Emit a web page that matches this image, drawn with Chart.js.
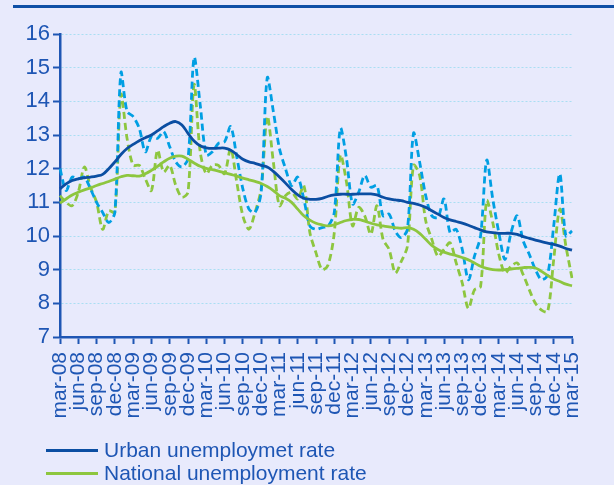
<!DOCTYPE html>
<html>
<head>
<meta charset="utf-8">
<script src="https://cdn.jsdelivr.net/npm/chart.js@4.4.0/dist/chart.umd.min.js"></script>
<style>
  html, body { margin: 0; padding: 0; background: #e8eafc; }
  #wrap { position: relative; width: 614px; height: 485px; overflow: hidden; font-family: "Liberation Sans", Arial, sans-serif; }
  #topline { position: absolute; left: 13px; right: 0; top: 5px; height: 3px; background: #0e4fa6; }
  #chart { position: absolute; left: 0; top: 0; }
  .leg { position: absolute; left: 46px; height: 24px; font-size: 21px; color: #1e56b4; white-space: nowrap; }
  .leg span.ln { position: absolute; left: 0; top: 11px; width: 52px; height: 3px; }
  .leg span.tx { position: absolute; left: 58px; top: 0; line-height: 24px; }
</style>
</head>
<body>
<div id="wrap">
  <div id="topline"></div>
  <canvas id="chart" width="614" height="485"></canvas>
  <div class="leg" style="top:438px"><span class="ln" style="background:#0b4ea2"></span><span class="tx">Urban unemploymet rate</span></div>
  <div class="leg" style="top:461px"><span class="ln" style="background:#8dc63f"></span><span class="tx">National unemployment rate</span></div>
</div>
<script>
// monthly labels mar-08 .. mar-15
const monthNames = ['jan', 'feb', 'mar', 'apr', 'may', 'jun', 'jul', 'aug', 'sep', 'oct', 'nov', 'dec'];
const months = [];
for (let i = 0; i < 85; i++) {
  const m = (2 + i) % 12;
  const y = 8 + Math.floor((2 + i) / 12);
  months.push(monthNames[m] + '-' + (y < 10 ? '0' + y : y));
}

const urbanTrend = [
  11.4, 11.55, 11.65, 11.7, 11.73, 11.75, 11.78, 11.83, 12.0, 12.2, 12.42, 12.6,
  12.72, 12.83, 12.92, 13.0, 13.12, 13.25, 13.35, 13.4, 13.3, 13.05, 12.82, 12.68,
  12.62, 12.6, 12.61, 12.61, 12.55, 12.42, 12.28, 12.2, 12.16, 12.1, 12.05, 11.92,
  11.75, 11.57, 11.38, 11.22, 11.12, 11.09, 11.09, 11.12, 11.18, 11.22, 11.24, 11.24,
  11.24, 11.25, 11.25, 11.25, 11.22, 11.15, 11.1, 11.07, 11.05, 11.0, 10.97, 10.92,
  10.85, 10.75, 10.65, 10.55, 10.48, 10.43, 10.38, 10.32, 10.25, 10.18, 10.12, 10.1,
  10.08, 10.08, 10.08, 10.05, 9.98, 9.93, 9.88, 9.83, 9.79, 9.75, 9.7, 9.63, 9.58
];
const nationalTrend = [
  10.98, 11.1, 11.22, 11.3, 11.37, 11.43, 11.5, 11.56, 11.62, 11.69, 11.76, 11.8,
  11.79, 11.78, 11.85, 11.95, 12.07, 12.2, 12.31, 12.37, 12.37, 12.28, 12.17, 12.07,
  12.01, 11.97, 11.93, 11.88, 11.83, 11.78, 11.72, 11.67, 11.62, 11.56, 11.47, 11.35,
  11.2, 11.12, 11.0, 10.8, 10.6, 10.47, 10.38, 10.33, 10.3, 10.33, 10.4, 10.46,
  10.49, 10.49, 10.44, 10.38, 10.33, 10.3, 10.27, 10.25, 10.23, 10.25, 10.2, 10.08,
  9.9, 9.72, 9.6, 9.52, 9.46, 9.42, 9.36, 9.29, 9.2, 9.1, 9.04, 9.0,
  8.99, 9.0, 9.02, 9.04, 9.06, 9.07, 9.05, 8.95, 8.83, 8.72, 8.65, 8.57, 8.52
];
const urbanMonthly = [
  12.0, 11.35, 11.75, 11.7, 11.75, 11.4, 11.0, 10.7, 10.4, 10.7, 14.85, 13.7,
  13.55, 13.2, 12.5, 12.95, 12.9, 13.1, 12.65, 12.2, 12.05, 12.3, 15.3, 13.9,
  12.4, 12.5, 12.75, 12.8, 13.25, 12.35, 11.4, 10.8, 10.7, 11.3, 14.7, 13.7,
  12.6, 12.0, 11.5, 11.75, 11.1, 10.3, 10.2, 10.25, 10.3, 10.7, 13.2, 12.3,
  10.95, 11.3, 11.8, 11.45, 11.5, 10.6, 10.65, 10.15, 9.95, 10.2, 13.05, 12.2,
  11.2, 10.6, 10.55, 11.1, 10.1, 10.2, 9.6, 8.7, 9.4, 10.0, 12.25, 11.1,
  10.1, 9.3, 10.1, 10.6, 9.85, 9.45, 9.0, 8.7, 8.85, 10.3, 11.85, 10.0, 10.15
];
const nationalMonthly = [
  11.2, 11.0, 10.9, 11.3, 12.05, 11.45, 11.0, 10.2, 10.75, 10.7, 14.2, 12.9,
  12.1, 12.1, 11.7, 11.35, 12.55, 11.9, 12.1, 11.5, 11.15, 11.3, 14.5, 12.5,
  11.85, 12.1, 12.1, 11.85, 12.6, 11.6, 10.6, 10.2, 10.7, 11.4, 13.55, 12.2,
  10.9, 11.2, 11.3, 11.1, 11.5, 10.1, 9.5, 9.0, 9.15, 10.1, 12.4, 11.6,
  10.3, 10.85, 10.6, 10.05, 10.9, 9.9, 9.6, 8.9, 9.25, 9.7, 12.1, 11.8,
  10.45, 9.9, 9.4, 9.6, 9.8, 9.2, 8.6, 7.85, 8.4, 8.5, 11.05, 10.4,
  9.45, 8.9, 9.1, 9.2, 8.85, 8.4, 8.0, 7.8, 7.75, 9.3, 10.8, 9.7, 8.75
];

const axisColor = '#1e56b4';
const darkBlue = '#0b4ea2';
const lightBlue = '#009fe3';
const green = '#8dc63f';

new Chart(document.getElementById('chart'), {
  type: 'line',
  data: {
    labels: months,
    datasets: [
      { label: 'Urban unemploymet rate', data: urbanTrend, borderColor: darkBlue, borderWidth: 2.8, tension: 0.4 },
      { label: 'National unemployment rate', data: nationalTrend, borderColor: green, borderWidth: 2.8, tension: 0.4 },
      { label: 'Urban monthly', data: urbanMonthly, borderColor: lightBlue, borderWidth: 2.8, borderDash: [7, 4], tension: 0.3 },
      { label: 'National monthly', data: nationalMonthly, borderColor: green, borderWidth: 2.8, borderDash: [7, 4], tension: 0.3 }
    ]
  },
  options: {
    responsive: false,
    animation: false,
    events: [],
    elements: { point: { radius: 0 } },
    layout: { padding: { top: 34, left: 0, right: 42, bottom: 48 } },
    plugins: { legend: { display: false }, tooltip: { enabled: false } },
    scales: {
      x: {
        offset: false,
        afterFit: function (scale) {
          scale.height = 100;
          scale.paddingLeft = 0;
          scale.paddingRight = 0;
        },
        grid: {
          drawOnChartArea: false,
          tickLength: 7,
          tickWidth: 2,
          tickColor: function (c) { return c.index % 3 === 0 ? axisColor : 'rgba(0,0,0,0)'; }
        },
        border: { color: axisColor, width: 2.5 },
        ticks: {
          autoSkip: false,
          minRotation: 90,
          maxRotation: 90,
          padding: 8,
          color: axisColor,
          font: { family: 'Liberation Sans', size: 21 },
          callback: function (v, i) { return i % 3 === 0 ? this.getLabelForValue(v) : ''; }
        }
      },
      y: {
        min: 7,
        max: 16,
        afterFit: function (scale) {
          scale.width = 60;
          scale.paddingTop = 0;
          scale.paddingBottom = 0;
        },
        grid: {
          color: '#a9def3',
          lineWidth: 1,
          tickLength: 7,
          tickWidth: 2,
          tickColor: axisColor
        },
        border: { color: axisColor, width: 2.5, dash: [2, 2] },
        ticks: {
          stepSize: 1,
          padding: 3,
          color: axisColor,
          font: { family: 'Liberation Sans', size: 22 }
        }
      }
    }
  }
});
</script>
</body>
</html>
